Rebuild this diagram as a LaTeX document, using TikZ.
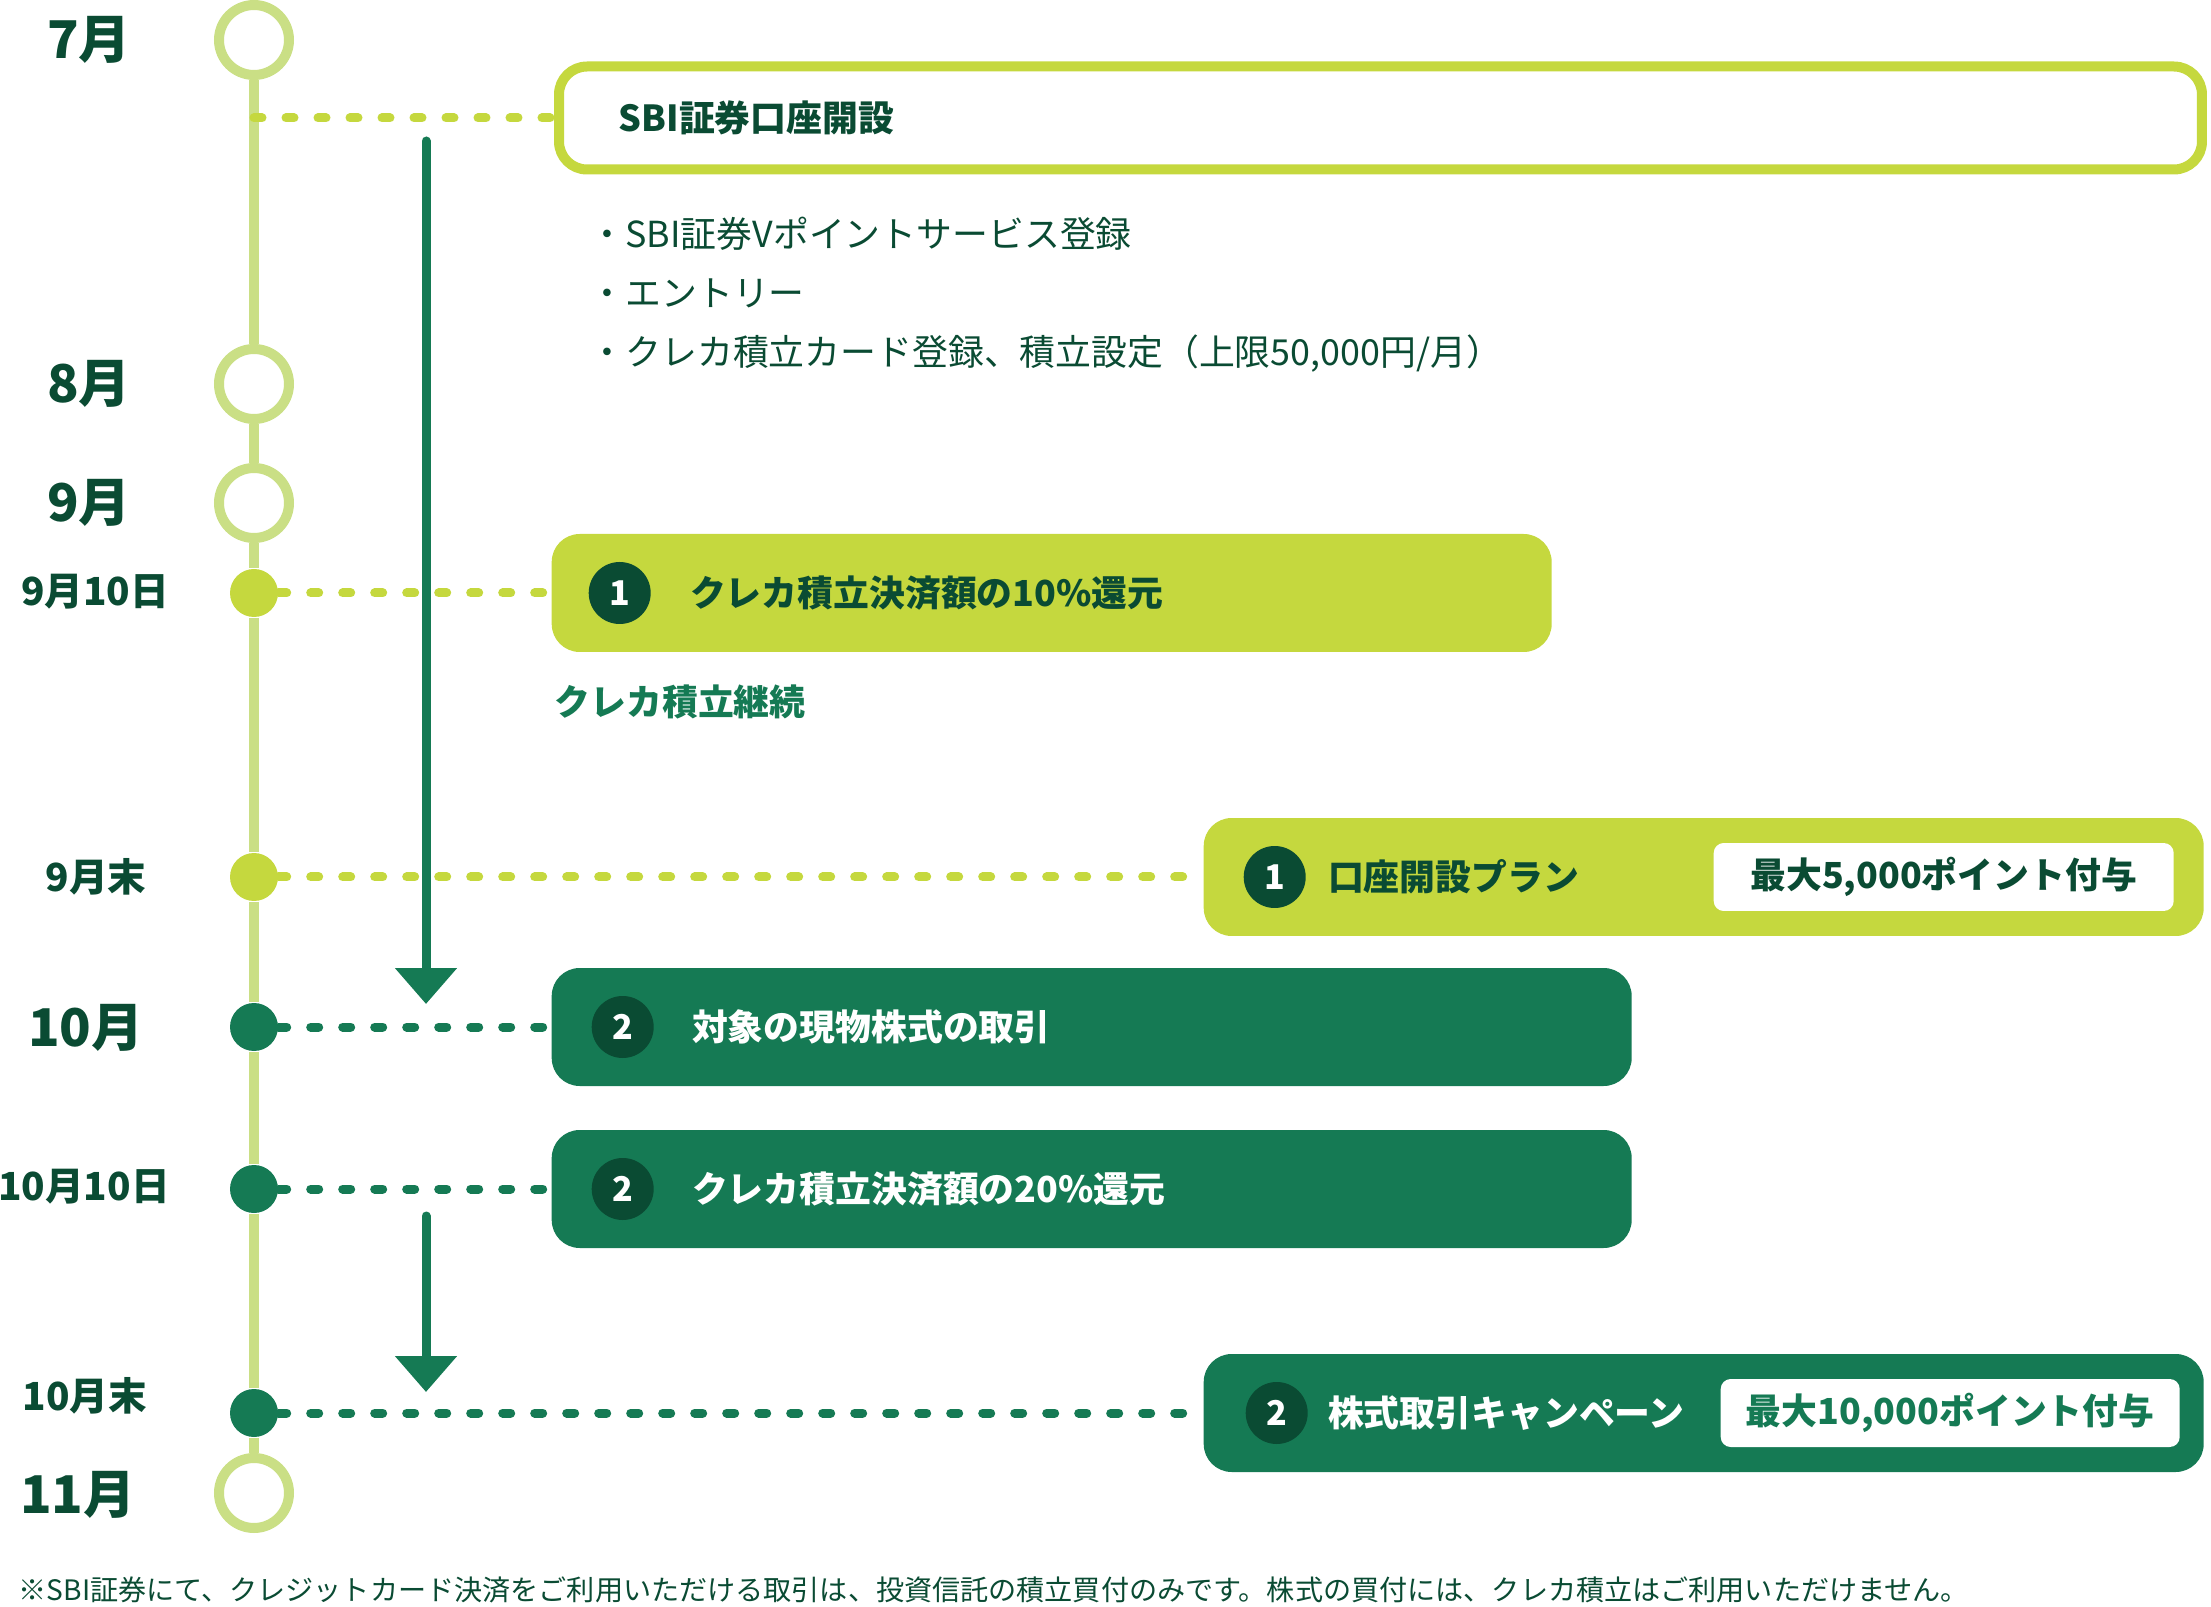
\documentclass[tikz,border=0pt]{standalone}
\usepackage{fontspec}
\setmainfont{Noto Sans CJK JP}
\usetikzlibrary{arrows.meta,positioning}
\definecolor{sbilime}{HTML}{C5D83E}
\definecolor{sbipale}{HTML}{CADF85}
\definecolor{sbigreen}{HTML}{157A54}
\definecolor{sbidark}{HTML}{0A4B33}

\begin{document}
\begin{tikzpicture}[x=0.1mm, y=-0.1mm,
    ring/.style={circle, draw=sbipale, line width=1mm, fill=white,
        minimum size=7mm, inner sep=0pt},
    tdot/.style={circle, fill=#1, minimum size=4.8mm, inner sep=0pt},
    month/.style={text=sbidark, font=\fontsize{14.8pt}{16pt}\selectfont\bfseries},
    day/.style={text=sbidark, font=\fontsize{11pt}{13pt}\selectfont\bfseries},
    card/.style={rounded corners=2.8mm, minimum height=11.8mm, inner sep=0pt, anchor=west},
    num/.style={circle, fill=sbidark, text=white, minimum size=6.2mm, inner sep=0pt,
        font=\fontsize{9.7pt}{11pt}\selectfont\bfseries},
    title/.style={font=\fontsize{10.2pt}{12pt}\selectfont\bfseries, inner sep=0pt},
    pill/.style={fill=white, rounded corners=1mm, minimum height=6.8mm, inner sep=0pt,
        font=\fontsize{10.2pt}{12pt}\selectfont\bfseries},
    bullet/.style={text=sbidark, anchor=west, inner sep=0pt,
        font=\fontsize{10.2pt}{12pt}\selectfont},
    link/.style={line width=0.9mm, line cap=round, dash pattern=on 0.8mm off 2.4mm},
    tline/.style={sbipale, line width=0.95mm},
    arr/.style={-{Triangle[width=6mm, length=3.6mm]}, line width=0.9mm, line cap=round, sbigreen}
]
    \useasboundingbox (0,0) rectangle (2211,1607);

    % timeline
    \node[ring] (c7) at (254,40) {};
    \node[ring] (c8) at (254,384) {};
    \node[ring] (c9) at (254,503) {};
    \node[tdot=sbilime] (d910) at (254,593) {};
    \node[tdot=sbilime] (d9e) at (254,877) {};
    \node[tdot=sbigreen] (d10) at (254,1027) {};
    \node[tdot=sbigreen] (d1010) at (254,1189) {};
    \node[tdot=sbigreen] (d10e) at (254,1413) {};
    \node[ring] (c11) at (254,1493) {};
    \foreach \u/\v in {c7/c8, c8/c9, c9/d910, d910/d9e, d9e/d10, d10/d1010, d1010/d10e, d10e/c11}
        \draw[tline] (\u) -- (\v);

    \node[month] (m7) at (89,40) {7月};
    \node[month] (m8) at (89,384) {8月};
    \node[month] (m9) at (89,503) {9月};
    \node[day] (m910) at (95,592) {9月10日};
    \node[day] (m9e) at (96,877) {9月末};
    \node[month] (m10) at (86,1028) {10月};
    \node[day] (m1010) at (84,1187) {10月10日};
    \node[day] (m10e) at (85,1396) {10月末};
    \node[month] (m11) at (78,1495) {11月};

    % boxes
    \node[card, draw=sbilime, line width=1mm, fill=white, minimum width=164.3mm,
        minimum height=10.3mm] (b0) at (554,118) {};
    \node[title, text=sbidark, right=6.4mm of b0.west] (t0) {SBI証券口座開設};

    \node[bullet] (l1) at (589,234) {・SBI証券Vポイントサービス登録};
    \node[bullet] (l2) at (589,293) {・エントリー};
    \node[bullet] (l3) at (589,354) {・クレカ積立カード登録、積立設定（上限50,000円/月）};

    \node[card, fill=sbilime, minimum width=100mm] (b1) at (551,593) {};
    \node[num, right=3.7mm of b1.west] (n1) {1};
    \node[title, text=sbidark, right=3.8mm of n1] (t1) {クレカ積立決済額の10\%還元};

    \node[title, text=sbigreen, anchor=west] (keep) at (554,702) {クレカ積立継続};

    \node[card, fill=sbilime, minimum width=100mm] (b2) at (1203,877) {};
    \node[num, right=4mm of b2.west] (n2) {1};
    \node[title, text=sbidark, right=2.1mm of n2] (t2) {口座開設プラン};
    \node[pill, text=sbidark, minimum width=46mm, left=3mm of b2.east] (p2) {最大5,000ポイント付与};

    \node[card, fill=sbigreen, minimum width=108mm] (b3) at (551,1027) {};
    \node[num, right=4mm of b3.west] (n3) {2};
    \node[title, text=white, right=3.7mm of n3] (t3) {対象の現物株式の取引};

    \node[card, fill=sbigreen, minimum width=108mm] (b4) at (551,1189) {};
    \node[num, right=4mm of b4.west] (n4) {2};
    \node[title, text=white, right=3.7mm of n4] (t4) {クレカ積立決済額の20\%還元};

    \node[card, fill=sbigreen, minimum width=100mm] (b5) at (1203,1413) {};
    \node[num, right=4.2mm of b5.west] (n5) {2};
    \node[title, text=white, right=1.9mm of n5] (t5) {株式取引キャンペーン};
    \node[pill, text=sbigreen, minimum width=45.9mm, left=2.4mm of b5.east] (p5) {最大10,000ポイント付与};

    % arrows
    \coordinate (a1s) at (426,141);
    \coordinate (a1e) at (426,1004);
    \coordinate (a2s) at (426,1216);
    \coordinate (a2e) at (426,1392);
    \draw[arr] (a1s) -- (a1e);
    \draw[arr] (a2s) -- (a2e);

    % dotted links
    \coordinate (t7) at (254,118);
    \draw[link, sbilime] (t7) -- (b0);
    \draw[link, sbilime] (d910) -- (b1);
    \draw[link, sbilime] (d9e) -- (b2);
    \draw[link, sbigreen] (d10) -- (b3);
    \draw[link, sbigreen] (d1010) -- (b4);
    \draw[link, sbigreen] (d10e) -- (b5);

    \node[anchor=west, text=sbidark, inner sep=0pt, font=\fontsize{8pt}{9pt}\selectfont] (fn) at (18,1590)
        {※SBI証券にて、クレジットカード決済をご利用いただける取引は、投資信託の積立買付のみです。株式の買付には、クレカ積立はご利用いただけません。};
\end{tikzpicture}
\end{document}
